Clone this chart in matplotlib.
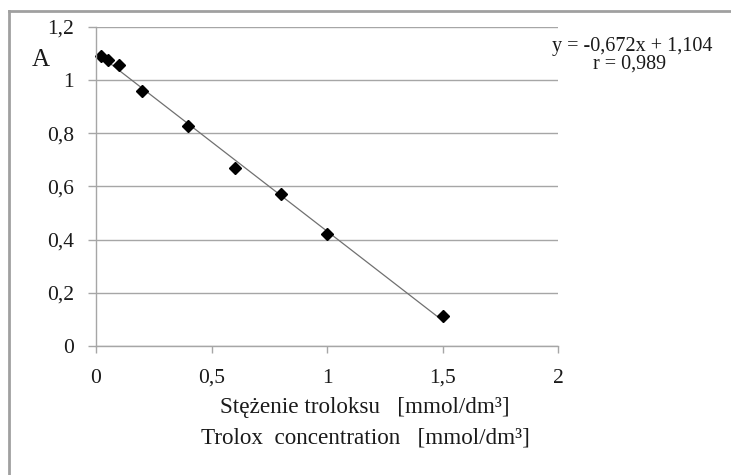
import matplotlib
matplotlib.use('Agg')
from matplotlib import pyplot as plt
from matplotlib.lines import Line2D

plt.rcParams['font.family'] = ['Liberation Serif', 'DejaVu Serif']

# Trolox calibration data
conc = [0.02, 0.05, 0.1, 0.2, 0.4, 0.6, 0.8, 1.0, 1.5]
absorb = [1.092, 1.077, 1.057, 0.959, 0.829, 0.67, 0.571, 0.421, 0.113]
slope = -0.672
intercept = 1.104
y_ticks = [0, 0.2, 0.4, 0.6, 0.8, 1, 1.2]
y_tick_labels = ['0', '0,2', '0,4', '0,6', '0,8', '1', '1,2']
x_ticks = [0, 0.5, 1, 1.5, 2]
x_tick_labels = ['0', '0,5', '1', '1,5', '2']

W, H = 731, 475
fig = plt.figure(figsize=(W / 100, H / 100), dpi=100)
ax = fig.add_axes([96 / W, 1 - 346 / H, (558 - 96) / W, (346 - 27) / H])

grid_col = '#a6a6a6'
txt_col = '#1a1a1a'
ax.set_xlim(0, 2)
ax.set_ylim(0, 1.2)
ax.set_yticks(y_ticks)
ax.set_yticklabels(y_tick_labels)
ax.set_xticks(x_ticks)
ax.set_xticklabels(x_tick_labels)
ax.yaxis.grid(True, color=grid_col, linewidth=1.0)
ax.set_axisbelow(True)
for side in ['top', 'right']:
    ax.spines[side].set_visible(False)
for side in ['left', 'bottom']:
    ax.spines[side].set_color(grid_col)
    ax.spines[side].set_linewidth(1.0)
ax.tick_params(axis='y', length=6, width=1.0, color=grid_col, pad=10,
               labelsize=15.5, labelcolor=txt_col)
ax.tick_params(axis='x', length=5, width=1.0, color=grid_col, pad=11.5,
               labelsize=15.5, labelcolor=txt_col)

# trend line
xl = [conc[0], conc[-1]]
ax.plot(xl, [slope * v + intercept for v in xl], color='#707070', linewidth=0.9)
ax.plot(conc, absorb, linestyle='none', marker='D', markersize=6.5,
        color='black', clip_on=False)

fig.text(41 / W, 1 - 60 / H, 'A', fontsize=18, ha='center', va='center',
         color=txt_col)
fig.text(632 / W, 1 - 46 / H, 'y = -0,672x + 1,104', fontsize=14.5,
         ha='center', va='center', color=txt_col)
fig.text(630 / W, 1 - 64 / H, 'r = 0,989', fontsize=14.5,
         ha='center', va='center', color=txt_col)
fig.text(365 / W, 1 - 408 / H, 'Stężenie troloksu   [mmol/dm³]', fontsize=16.7,
         ha='center', va='center', color=txt_col)
fig.text(365 / W, 1 - 438 / H, 'Trolox  concentration   [mmol/dm³]', fontsize=16.7,
         ha='center', va='center', color=txt_col)

# outer frame (left and top edges only)
fig.add_artist(Line2D([9 / W, 9 / W], [0, 1 - 11 / H], transform=fig.transFigure,
                      color='#a0a0a0', linewidth=2))
fig.add_artist(Line2D([9 / W, 1], [1 - 11 / H, 1 - 11 / H], transform=fig.transFigure,
                      color='#a0a0a0', linewidth=2))

fig.savefig('out.png', dpi=100)
plt.close(fig)
